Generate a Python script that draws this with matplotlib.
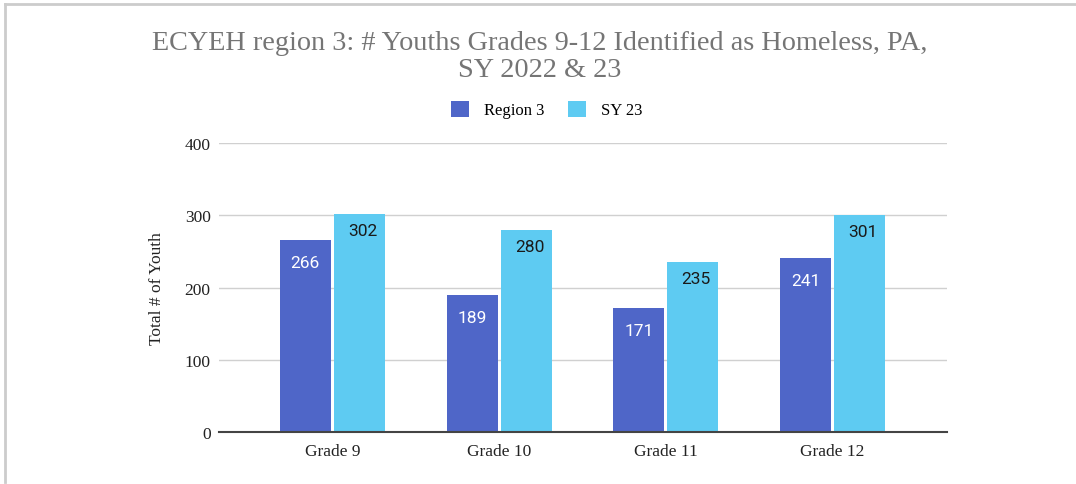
#!/usr/bin/env python3

import matplotlib.pyplot as plt
from matplotlib.lines import Line2D
import numpy as np

# data
grades = ['Grade 9', 'Grade 10', 'Grade 11', 'Grade 12']
region3 = [266, 189, 171, 241]
sy23 = [302, 280, 235, 301]
yticks = [0, 100, 200, 300, 400]

dark_blue = '#4f66c8'
light_blue = '#5ecbf2'
serif = ['Liberation Serif', 'DejaVu Serif']

fig = plt.figure(figsize=(10.76, 4.85), dpi=100)
ax = fig.add_axes([0.2035, 0.1072, 0.6766, 0.5958])

x = np.arange(len(grades))
w = 0.305
off = 0.162
b1 = ax.bar(x - off, region3, w, color=dark_blue, label='Region 3', zorder=3)
b2 = ax.bar(x + off, sy23, w, color=light_blue, label='SY 23', zorder=3)

# value labels inside the top of each bar
for rect, v in zip(b1, region3):
    ax.annotate(str(v), (rect.get_x() + rect.get_width() / 2, v),
                xytext=(0, -16), textcoords='offset points', ha='center', va='center',
                color='white', fontsize=12.5, family='Roboto', zorder=4)
for rect, v in zip(b2, sy23):
    ax.annotate(str(v), (rect.get_x() + rect.get_width() / 2 + 0.02, v),
                xytext=(0, -12), textcoords='offset points', ha='center', va='center',
                color='#1a1a1a', fontsize=12.5, family='Roboto', zorder=4)

ax.set_xlim(-0.68, 3.686)
ax.set_ylim(0, 400)
ax.set_yticks(yticks)
ax.set_xticks(x)
ax.set_xticklabels(grades, family=serif, fontsize=12.5, color='#222222')
ax.set_yticklabels([str(t) for t in yticks], family=serif, fontsize=12.5, color='#222222')
ax.tick_params(length=0, pad=6)
ax.tick_params(axis='x', pad=8)
ax.grid(axis='y', color='#d0d0d0', linewidth=1, zorder=0)
for s in ['top', 'right', 'left']:
    ax.spines[s].set_visible(False)
ax.spines['bottom'].set_color('#444444')
ax.spines['bottom'].set_linewidth(1.5)
ax.spines['bottom'].set_zorder(5)

ax.set_ylabel('Total # of Youth', family=serif, fontsize=12.5, color='#222222', labelpad=14)

fig.text(0.502, 0.882, 'ECYEH region 3: # Youths Grades 9-12 Identified as Homeless, PA,\nSY 2022 & 23',
         ha='center', va='center', fontsize=20.3, family=serif, color='#757575', linespacing=1.12)

leg = fig.legend(handles=[b1, b2], loc='center', bbox_to_anchor=(0.508, 0.772), ncol=2,
                 frameon=False, prop={'family': serif, 'size': 12},
                 handlelength=1.1, handleheight=1.1, columnspacing=1.4, handletextpad=0.9)

# light border around the chart
fig.add_artist(Line2D([5 / 1076, 1], [1 - 5 / 485, 1 - 5 / 485], color='#cccccc', linewidth=2))
fig.add_artist(Line2D([5 / 1076, 5 / 1076], [2 / 485, 1 - 5 / 485], color='#cccccc', linewidth=2))

fig.savefig('out.png', dpi=100)
